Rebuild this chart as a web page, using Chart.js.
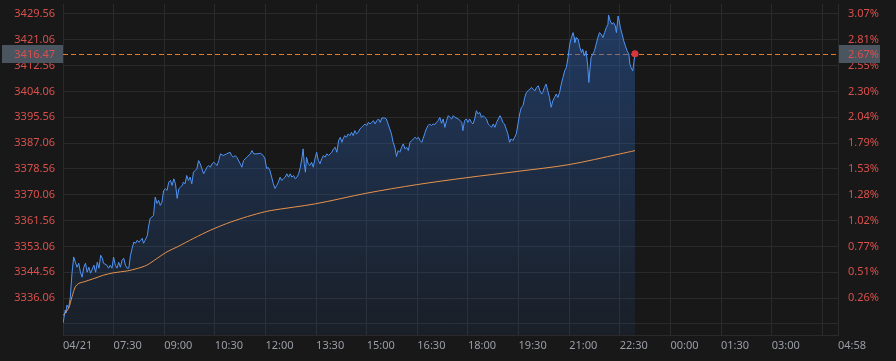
<!DOCTYPE html>
<html>
<head>
<meta charset="utf-8">
<script src="https://cdn.jsdelivr.net/npm/chart.js@4.4.0/dist/chart.umd.min.js"></script>
<style>
  html, body { margin: 0; padding: 0; background: #181818; }
  #wrap { width: 896px; height: 361px; }
</style>
</head>
<body>
<div id="wrap"><canvas id="chart"></canvas></div>
<script>
// previous close, used as the 0% line of the right axis
const prevClose = 3327.56;

const priceTimes = [
  '06:00','06:04','06:05','06:07','06:10','06:13','06:16','06:19','06:22','06:25','06:28','06:31',
  '06:34','06:37','06:40','06:43','06:46','06:49','06:55','06:58','07:01','07:04','07:07','07:10',
  '07:12','07:18','07:21','07:24','07:27','07:30','07:33','07:36','07:39','07:42','07:45','07:48',
  '07:51','07:54','07:57','08:00','08:03','08:06','08:09','08:12','08:15','08:18','08:21','08:23',
  '08:26','08:30','08:32','08:35','08:38','08:41','08:44','08:47','08:50','08:53','08:56','08:59',
  '09:02','09:05','09:08','09:11','09:14','09:17','09:20','09:23','09:26','09:29','09:32','09:34',
  '09:37','09:40','09:43','09:46','09:49','09:52','09:55','09:58','10:01','10:04','10:07','10:10',
  '10:13','10:16','10:19','10:22','10:25','10:28','10:31','10:34','10:37','10:40','10:45','10:51',
  '10:57','11:00','11:03','11:06','11:09','11:15','11:18','11:21','11:27','11:33','11:36','11:39',
  '11:45','11:51','11:56','11:59','12:02','12:05','12:08','12:11','12:14','12:17','12:20','12:23',
  '12:26','12:29','12:32','12:35','12:38','12:41','12:44','12:47','12:50','12:53','12:56','12:59',
  '13:02','13:05','13:07','13:09','13:11','13:13','13:16','13:19','13:22','13:25','13:28','13:31',
  '13:34','13:37','13:40','13:43','13:46','13:49','13:52','13:58','14:01','14:04','14:07','14:10',
  '14:13','14:16','14:18','14:21','14:24','14:27','14:30','14:33','14:36','14:39','14:42','14:45',
  '14:48','14:51','14:54','14:57','15:00','15:03','15:06','15:09','15:12','15:15','15:18','15:21',
  '15:24','15:27','15:32','15:35','15:38','15:41','15:44','15:47','15:50','15:53','15:56','15:59',
  '16:02','16:05','16:08','16:11','16:14','16:17','16:20','16:23','16:26','16:29','16:32','16:35',
  '16:38','16:40','16:43','16:46','16:49','16:52','16:55','16:58','17:01','17:04','17:07','17:10',
  '17:13','17:16','17:19','17:22','17:25','17:28','17:31','17:34','17:37','17:43','17:49','17:51',
  '17:54','17:57','18:00','18:03','18:06','18:09','18:12','18:15','18:18','18:21','18:24','18:27',
  '18:30','18:33','18:36','18:39','18:42','18:45','18:48','18:51','18:54','18:57','19:00','19:02',
  '19:05','19:08','19:11','19:14','19:17','19:20','19:23','19:26','19:29','19:32','19:35','19:38',
  '19:41','19:44','19:47','19:50','19:53','19:56','19:59','20:02','20:05','20:08','20:11','20:13',
  '20:16','20:19','20:22','20:25','20:28','20:31','20:34','20:37','20:40','20:43','20:46','20:49',
  '20:52','20:55','20:58','21:01','21:04','21:07','21:09','21:10','21:13','21:16','21:19','21:22',
  '21:24','21:27','21:30','21:33','21:35','21:37','21:39','21:42','21:45','21:48','21:51','21:54',
  '21:57','22:00','22:03','22:06','22:09','22:10','22:13','22:16','22:19','22:22','22:24','22:27',
  '22:29','22:31','22:34','22:37','22:40','22:43','22:46','22:48','22:50','22:53','22:55','22:57'
];

const priceValues = [
  3327.76,3332.12,3331.14,3333.76,3332.78,3336.39,3344.26,3349.61,3347.87,3346.23,3347.54,3344.59,
  3342.95,3346.23,3347.54,3344.59,3346.23,3344.26,3346.89,3344.59,3347.87,3345.90,3350.17,3349.18,
  3347.54,3346.89,3345.90,3346.89,3345.90,3349.51,3346.89,3345.90,3347.87,3346.23,3348.53,3349.18,
  3346.89,3345.90,3345.90,3350.17,3352.47,3354.53,3354.10,3355.09,3354.43,3355.09,3355.75,3354.10,
  3355.09,3356.73,3359.45,3362.31,3362.73,3363.29,3369.30,3367.23,3368.21,3366.57,3367.66,3371.50,
  3372.05,3371.50,3374.22,3374.78,3373.14,3375.33,3373.69,3368.87,3372.05,3372.58,3373.14,3374.22,
  3373.69,3376.42,3374.78,3375.86,3373.69,3377.50,3378.06,3378.62,3381.34,3380.25,3378.62,3376.97,
  3378.06,3379.14,3379.70,3379.14,3380.25,3380.78,3380.25,3379.70,3381.34,3383.54,3382.98,3383.54,
  3384.06,3382.98,3382.42,3382.98,3382.42,3380.35,3379.14,3381.34,3382.42,3383.54,3384.62,3383.54,
  3383.54,3383.73,3382.98,3381.99,3378.71,3379.04,3378.06,3375.86,3373.69,3372.15,3373.14,3374.22,
  3375.86,3374.78,3375.33,3375.86,3376.97,3375.86,3376.97,3375.86,3376.42,3375.33,3375.86,3376.97,
  3379.14,3382.42,3385.18,3380.35,3377.50,3382.42,3380.25,3379.70,3380.78,3379.14,3381.90,3384.06,
  3381.34,3380.25,3381.90,3382.98,3382.42,3383.54,3382.98,3384.06,3385.18,3385.70,3384.06,3387.90,
  3388.98,3387.34,3388.46,3389.54,3388.98,3390.10,3389.54,3390.62,3389.54,3391.18,3390.10,3390.62,
  3391.74,3392.26,3392.82,3393.38,3392.82,3393.90,3393.38,3393.90,3394.46,3393.38,3394.46,3395.02,
  3393.90,3395.35,3395.35,3395.02,3393.38,3391.74,3390.10,3387.34,3385.70,3382.65,3384.62,3384.06,
  3385.70,3386.82,3385.18,3385.70,3384.62,3387.34,3387.90,3388.46,3388.98,3388.46,3388.98,3387.90,
  3387.34,3388.46,3390.10,3391.74,3392.82,3393.38,3392.82,3393.38,3393.15,3393.90,3394.46,3395.54,
  3393.58,3395.02,3392.26,3394.46,3396.10,3395.54,3395.02,3396.10,3395.54,3395.02,3393.90,3391.18,
  3394.46,3395.02,3393.90,3395.02,3393.90,3393.38,3395.02,3397.74,3396.66,3397.18,3395.54,3396.10,
  3395.54,3395.02,3393.38,3392.82,3392.26,3393.38,3392.26,3393.90,3395.02,3396.10,3395.02,3393.90,
  3393.38,3391.74,3390.10,3387.34,3388.46,3387.90,3388.98,3390.10,3393.38,3396.66,3398.86,3399.41,
  3402.11,3403.75,3404.30,3404.86,3405.39,3404.86,3404.30,3405.39,3405.95,3404.30,3403.22,3403.75,
  3405.39,3406.50,3404.30,3402.11,3398.86,3401.03,3402.11,3403.22,3402.11,3403.75,3406.50,3408.67,
  3410.87,3411.95,3415.23,3419.63,3421.79,3423.43,3421.79,3420.15,3421.79,3421.27,3418.51,3416.87,
  3417.99,3415.79,3417.43,3412.51,3407.03,3411.42,3415.23,3416.35,3417.43,3419.63,3421.79,3423.43,
  3422.91,3421.79,3423.43,3425.07,3426.19,3429.24,3427.27,3426.19,3426.72,3425.63,3423.43,3428.91,
  3427.27,3425.07,3423.01,3420.71,3419.07,3417.43,3416.44,3413.06,3411.95,3410.87,3413.49,3416.47
];

const avgTimes = [
  '06:00','06:10','06:16','06:22','06:28','06:37','06:55','07:12','07:30','07:54','08:12','08:29',
  '08:47','09:05','09:23','09:52','10:22','10:51','11:21','11:51','12:10','13:29','15:00','16:29',
  '17:58','19:30','21:00','22:30','22:57'
];
const avgValues = [
  3330.3,3332.8,3336.5,3339.8,3340.9,3341.4,3342.5,3343.6,3344.4,3345.0,3345.8,3346.9,
  3349.1,3351.3,3352.9,3355.7,3358.4,3360.6,3362.5,3364.1,3364.9,3367.1,3370.6,3373.4,
  3375.7,3377.8,3380.0,3383.5,3384.6
];

const yTickValues = [3327.56, 3336.06, 3344.56, 3353.06, 3361.56, 3370.06, 3378.56,
                     3387.06, 3395.56, 3404.06, 3412.56, 3421.06, 3429.56];

const xTickTimes = ['06:00','07:30','09:00','10:30','12:00','13:30','15:00','16:30','18:00',
                    '19:30','21:00','22:30','00:00','01:30','03:00','04:30','04:58'];
const xTickLabels = ['04/21','07:30','09:00','10:30','12:00','13:30','15:00','16:30','18:00',
                     '19:30','21:00','22:30','00:00','01:30','03:00','','04:58'];

// minutes since session open (06:00), crossing midnight
function toMinutes(t) {
  const [h, m] = t.split(':').map(Number);
  return (h * 60 + m - 360 + 1440) % 1440;
}

const lastPrice = priceValues[priceValues.length - 1];
const lastIndex = priceValues.length - 1;
const xTickMinutes = xTickTimes.map(toMinutes);

const priceData = priceTimes.map((t, i) => ({ x: toMinutes(t), y: priceValues[i] }));
const avgData = avgTimes.map((t, i) => ({ x: toMinutes(t), y: avgValues[i] }));

const red = '#d9504c';
const font = { family: '"Noto Sans", "DejaVu Sans", sans-serif', size: 11 };

function pct(v) {
  return ((v - prevClose) / prevClose * 100).toFixed(2) + '%';
}

const lastPricePlugin = {
  id: 'lastPrice',
  beforeDatasetsDraw(chart) {
    const { ctx, chartArea, scales } = chart;
    const y = Math.round(scales.y.getPixelForValue(lastPrice)) + 0.5;
    ctx.save();
    ctx.strokeStyle = '#e07b2c';
    ctx.lineWidth = 1;
    ctx.setLineDash([5, 3]);
    ctx.beginPath();
    ctx.moveTo(chartArea.left, y);
    ctx.lineTo(chartArea.right, y);
    ctx.stroke();
    ctx.restore();
  },
  afterDraw(chart) {
    const { ctx, chartArea, scales } = chart;
    const y = Math.round(scales.y.getPixelForValue(lastPrice));
    ctx.save();
    ctx.fillStyle = '#4b5560';
    ctx.fillRect(2, y - 9, chartArea.left - 2, 18);
    ctx.fillRect(chartArea.right + 1, y - 9, 41, 18);
    ctx.font = '11px ' + font.family;
    ctx.fillStyle = red;
    ctx.textBaseline = 'middle';
    ctx.textAlign = 'right';
    ctx.fillText(lastPrice.toFixed(2), chartArea.left - 8, y + 0.5);
    ctx.textAlign = 'left';
    ctx.fillText(pct(lastPrice), chartArea.right + 10, y + 0.5);
    ctx.restore();
  }
};

const setTicks = (list) => (scale) => {
  scale.ticks = list.map(v => ({ value: v }));
};

// fixed axis width, and no extra room for half-labels at the ends
const fitY = (w) => (scale) => {
  scale.width = w;
  scale.paddingTop = 0;
  scale.paddingBottom = 0;
};

new Chart(document.getElementById('chart'), {
  type: 'line',
  data: {
    datasets: [
      {
        label: 'avg',
        data: avgData,
        borderColor: '#e8924a',
        borderWidth: 1,
        pointRadius: 0,
        fill: false,
        tension: 0.3,
        order: 0
      },
      {
        label: 'price',
        data: priceData,
        borderColor: '#4f94f5',
        borderWidth: 1,
        pointRadius: (c) => (c.dataIndex === lastIndex ? 3.5 : 0),
        pointBackgroundColor: '#d6363c',
        pointBorderWidth: 0,
        tension: 0,
        fill: 'start',
        backgroundColor: (c) => {
          const area = c.chart.chartArea;
          if (!area) return 'rgba(40,90,170,0.3)';
          const g = c.chart.ctx.createLinearGradient(0, area.top, 0, area.bottom);
          g.addColorStop(0, 'rgba(44,96,176,0.50)');
          g.addColorStop(1, 'rgba(44,96,176,0.10)');
          return g;
        },
        order: 1
      }
    ]
  },
  options: {
    responsive: true,
    maintainAspectRatio: false,
    animation: false,
    layout: { padding: { top: 3, bottom: 0, left: 0, right: 0 } },
    plugins: {
      legend: { display: false },
      tooltip: { enabled: false }
    },
    scales: {
      x: {
        type: 'linear',
        min: 0,
        max: toMinutes('04:58'),
        afterBuildTicks: setTicks(xTickMinutes),
        afterFit(scale) { scale.height = 26; },
        grid: { color: '#2a2a2a', drawTicks: false },
        border: { display: true, color: '#2a2a2a' },
        ticks: {
          autoSkip: false,
          maxRotation: 0,
          align: 'start',
          padding: 4,
          color: '#9a9ea6',
          font: font,
          callback: (v) => {
            const i = xTickMinutes.indexOf(v);
            return i >= 0 ? xTickLabels[i] : '';
          }
        }
      },
      y: {
        position: 'left',
        min: 3323.92,
        max: 3432.85,
        afterBuildTicks: setTicks(yTickValues),
        afterFit: fitY(63),
        grid: { color: '#2a2a2a', drawTicks: false },
        border: { display: false },
        ticks: {
          padding: 8,
          color: red,
          font: font,
          callback: (v) => (v === prevClose ? '' : v.toFixed(2))
        }
      },
      y1: {
        position: 'right',
        min: 3323.92,
        max: 3432.85,
        afterBuildTicks: setTicks(yTickValues),
        afterFit: fitY(58),
        grid: { display: false, drawTicks: false },
        border: { display: false },
        ticks: {
          padding: 10,
          color: red,
          font: font,
          callback: (v) => (v === prevClose ? '' : pct(v))
        }
      }
    }
  },
  plugins: [lastPricePlugin]
});
</script>
</body>
</html>
